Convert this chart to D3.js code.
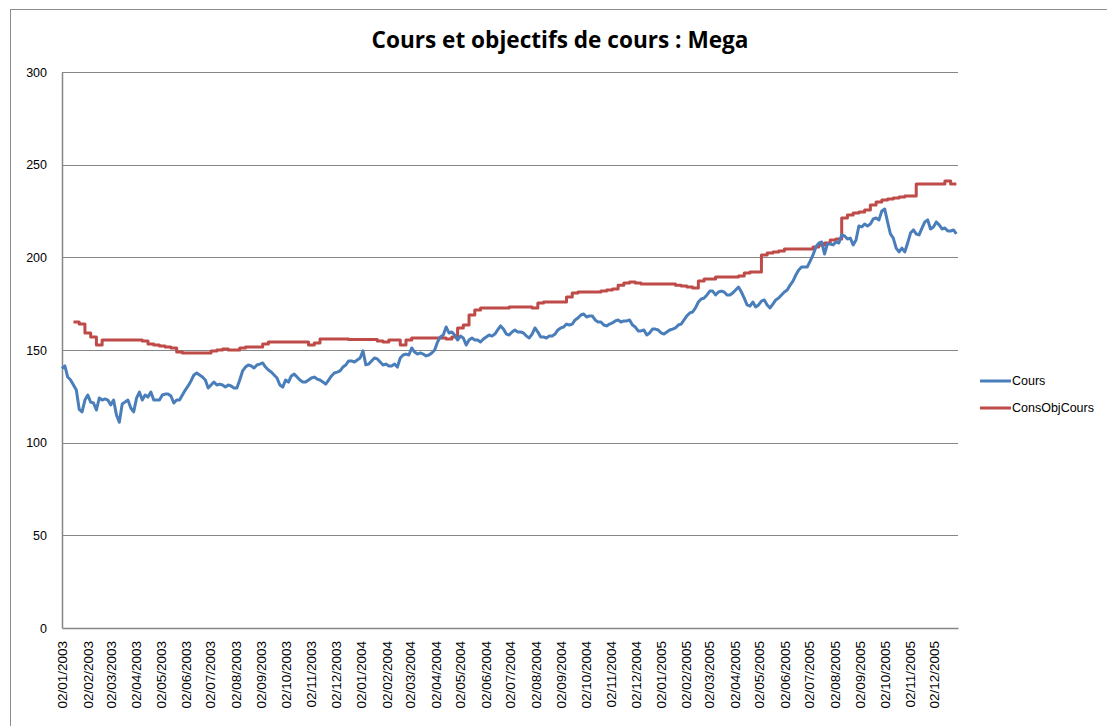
<!DOCTYPE html>
<html>
<head>
<meta charset="utf-8">
<script src="https://cdn.jsdelivr.net/npm/d3@7"></script>
<style>
  html, body { margin: 0; padding: 0; background: #fff; }
  svg { display: block; }
</style>
</head>
<body>
<svg id="chart" width="1107" height="726"></svg>
<script>
// ---------- DATA ----------
const title = "Cours et objectifs de cours : Mega";
const seriesNames = ["Cours", "ConsObjCours"];
const startDate = "2003-01-02";   // first observation
const coursStepHours = 84;         // Cours read twice a week (every 3.5 days)
const objStepDays = 7;             // ConsObjCours read weekly
const domainEnd = "2005-12-31";

const cours = [
  140, 141.4, 135.4, 133.8, 131.1, 128.4, 118, 116.6, 123, 125.7,
  121.9, 121.4, 117.6, 124.1, 123, 123.6, 123, 120.3, 123, 114.9,
  111, 120.9, 121.9, 123, 118.7, 116.6, 124, 127.3, 123, 125.7,
  124.6, 127.3, 123, 123, 123, 125.7, 126.2, 126.2, 125.2, 121.4,
  123, 123, 125.7, 128.4, 130.6, 133.3, 136.5, 137.6, 136.5, 135.4,
  133.8, 129.5, 131.1, 132.7, 131.1, 131.6, 131.1, 130, 131.1, 130.6,
  129.5, 129.5, 133.8, 138.7, 140.8, 141.9, 141.4, 140.3, 141.9, 142.4,
  143, 140.8, 139.2, 138.1, 136.5, 134.9, 131.1, 130, 133.8, 132.7,
  136, 137, 135.4, 133.8, 132.7, 132.7, 133.8, 134.9, 135.4, 134.3,
  133.8, 132.7, 131.6, 133.8, 136, 137.6, 138.1, 138.7, 140.8, 141.9,
  144.1, 144.1, 143.5, 144.6, 145.7, 149.5, 142, 142.4, 144.1, 145.7,
  145.2, 143.5, 141.9, 142.4, 141.4, 141.4, 142.4, 140.8, 145.7, 147.3,
  147.8, 147.3, 151.1, 148.9, 147.8, 148.4, 147.8, 146.8, 147.3, 148.4,
  150, 154.3, 157, 158.1, 162.4, 159.2, 159.7, 158.1, 155.4, 157.5,
  156.5, 152.7, 155.4, 156.5, 155.4, 155.4, 154.3, 155.9, 157, 158.1,
  157.5, 158.6, 160.8, 163, 161.3, 158.6, 158.1, 159.7, 160.8, 159.7,
  159.7, 159.2, 157.5, 156.5, 158.6, 161.9, 159.7, 157, 157, 156.5,
  157.5, 157.5, 158.6, 160.8, 161.9, 162.4, 164, 163.5, 164, 166.2,
  167.3, 168.9, 169.4, 167.8, 168.4, 168.4, 166.2, 165.1, 165.1, 163.5,
  163, 164, 164.6, 165.7, 166.2, 165.1, 165.7, 165.7, 166.2, 163.5,
  162.4, 160.3, 160.3, 160.8, 158.1, 159.2, 161.3, 161.3, 160.8, 159.2,
  158.6, 159.7, 160.8, 161.3, 161.9, 163.5, 164, 166.2, 168.4, 170,
  170.5, 172.7, 175.9, 177.5, 178, 179.7, 181.8, 181.8, 179.7, 181.3,
  181.8, 181.3, 179.7, 179.7, 180.8, 182.4, 184, 181.3, 178, 174.3,
  173.7, 175.9, 173.2, 174.3, 176.4, 177, 174.3, 172.7, 174.8, 177,
  178, 179.7, 181.3, 182.4, 185, 187.2, 190.5, 193.2, 194.8, 194.8,
  194.8, 198, 201.3, 205.6, 207.7, 208.3, 201.8, 207.2, 207.2, 206.7,
  208.3, 207.7, 212.1, 211.5, 209.9, 210.4, 206.7, 209.4, 216.9, 216.4,
  218, 216.9, 218, 220.7, 221.2, 220.2, 225, 226.1, 219.1, 212.6,
  210.4, 205, 202.9, 205, 202.9, 207.7, 213.1, 214.8, 212.6, 212.1,
  215.8, 219.1, 220.2, 215.3, 216.4, 219.1, 217.5, 215.3, 215.8, 214.2,
  214.2, 214.8, 212.6
];

const consObjCours = [
  null, null, 165.1, 164, 159.2, 157, 152.7, 155.4, 155.4, 155.4,
  155.4, 155.4, 155.4, 155.4, 154.9, 153.2, 152.7, 152.2, 151.6, 151.1,
  148.9, 148.4, 148.4, 148.4, 148.4, 148.4, 149.5, 150, 150.5, 150,
  150, 151.1, 151.6, 151.6, 151.6, 153.2, 154.3, 154.3, 154.3, 154.3,
  154.3, 154.3, 154.3, 152.7, 153.8, 155.9, 155.9, 155.9, 155.9, 155.9,
  155.6, 155.6, 155.6, 155.6, 155.6, 154.9, 154.3, 155.4, 155.4, 152.7,
  155.4, 156.5, 156.5, 156.5, 156.5, 156.5, 156.5, 156, 157, 161.9,
  163.5, 168.9, 171.6, 172.7, 172.7, 172.7, 172.7, 172.7, 173.2, 173.2,
  173.2, 173.2, 172.7, 175.4, 175.9, 175.9, 175.9, 175.9, 178.6, 180.8,
  181.3, 181.3, 181.3, 181.3, 181.8, 182.4, 182.9, 185, 186.2, 186.7,
  186.2, 185.6, 185.6, 185.6, 185.6, 185.6, 185.6, 185, 184.5, 184,
  183.5, 187.2, 188.3, 188.3, 189.4, 189.4, 189.4, 189.4, 189.9, 191.6,
  192.1, 192.1, 201.3, 202.3, 202.9, 203.4, 204.5, 204.5, 204.5, 204.5,
  204.5, 205.6, 206.7, 207.7, 209.4, 209.9, 221.2, 222.8, 223.9, 224.5,
  225.5, 228.2, 229.9, 230.9, 231.5, 232, 232.6, 233.1, 233.1, 239.6,
  239.6, 239.6, 239.6, 239.6, 241.2, 239.6, 239.6
];

const yTicks = [0, 50, 100, 150, 200, 250, 300];

const xTickLabels = [
  "02/01/2003","02/02/2003","02/03/2003","02/04/2003","02/05/2003","02/06/2003",
  "02/07/2003","02/08/2003","02/09/2003","02/10/2003","02/11/2003","02/12/2003",
  "02/01/2004","02/02/2004","02/03/2004","02/04/2004","02/05/2004","02/06/2004",
  "02/07/2004","02/08/2004","02/09/2004","02/10/2004","02/11/2004","02/12/2004",
  "02/01/2005","02/02/2005","02/03/2005","02/04/2005","02/05/2005","02/06/2005",
  "02/07/2005","02/08/2005","02/09/2005","02/10/2005","02/11/2005","02/12/2005"
];

const colors = ["#4A7EBB", "#BE4B48"];

// ---------- BUILD ----------
const parseISO = d3.timeParse("%Y-%m-%d");
const parseFR = d3.timeParse("%d/%m/%Y");
const t0 = parseISO(startDate);

const coursRows = cours.map((v, i) => ({ date: d3.timeHour.offset(t0, i * coursStepHours), v }));
const objRows = consObjCours.map((v, i) => ({ date: d3.timeDay.offset(t0, i * objStepDays), v }));

const svg = d3.select("#chart");
const plot = { left: 62, right: 958, top: 72, bottom: 628 };

// outer chart border
svg.append("rect")
  .attr("x", 10.5).attr("y", 9.5)
  .attr("width", 1200).attr("height", 1000)
  .attr("fill", "none").attr("stroke", "#8c8c8c").attr("stroke-width", 1);

const x = d3.scaleTime()
  .domain([t0, parseISO(domainEnd)])
  .range([plot.left, plot.right]);
const y = d3.scaleLinear()
  .domain([0, 300])
  .range([plot.bottom, plot.top]);

// gridlines
svg.append("g")
  .selectAll("line")
  .data(yTicks.filter(v => v > 0))
  .join("line")
  .attr("x1", plot.left).attr("x2", plot.right)
  .attr("y1", d => Math.round(y(d)) + 0.5).attr("y2", d => Math.round(y(d)) + 0.5)
  .attr("stroke", "#868686").attr("stroke-width", 1);

// y axis
const yAxis = d3.axisLeft(y).tickValues(yTicks).tickSize(0).tickPadding(15);
const gy = svg.append("g")
  .attr("transform", `translate(${plot.left},0)`)
  .call(yAxis);
gy.select(".domain").attr("stroke", "#868686").attr("stroke-width", 1.5);
gy.selectAll("text")
  .attr("font-family", "'Liberation Sans', Arial, sans-serif")
  .attr("font-size", 12.5).attr("fill", "#000");

// x axis
const xTickDates = xTickLabels.map(parseFR);
const xAxis = d3.axisBottom(x)
  .tickValues(xTickDates)
  .tickFormat((d, i) => xTickLabels[i])
  .tickSize(0);
const gx = svg.append("g")
  .attr("transform", `translate(0,${plot.bottom})`)
  .call(xAxis);
gx.select(".domain").attr("stroke", "#868686").attr("stroke-width", 1.5);
gx.selectAll("text")
  .attr("font-family", "'Liberation Sans', Arial, sans-serif")
  .attr("font-size", 13.5).attr("fill", "#000")
  .attr("text-anchor", "end")
  .attr("transform", "rotate(-90)")
  .attr("x", -13).attr("y", 0).attr("dy", "0.35em");

// lines
const lineCours = d3.line()
  .x(d => x(d.date)).y(d => y(d.v))
  .defined(d => d.v != null);
const lineObj = d3.line()
  .x(d => x(d.date)).y(d => y(d.v))
  .defined(d => d.v != null)
  .curve(d3.curveStepAfter);

svg.append("path").datum(objRows)
  .attr("d", lineObj).attr("fill", "none")
  .attr("stroke", colors[1]).attr("stroke-width", 3)
  .attr("stroke-linejoin", "round");
svg.append("path").datum(coursRows)
  .attr("d", lineCours).attr("fill", "none")
  .attr("stroke", colors[0]).attr("stroke-width", 3)
  .attr("stroke-linejoin", "round");

// title
svg.append("text")
  .attr("x", 560).attr("y", 48)
  .attr("text-anchor", "middle")
  .attr("font-family", "'Liberation Sans Narrow', 'Open Sans', Roboto, sans-serif")
  .attr("font-weight", "bold")
  .attr("font-size", 23)
  .attr("textLength", 377).attr("lengthAdjust", "spacingAndGlyphs")
  .text(title);

// legend
const lg = svg.append("g");
seriesNames.forEach((name, i) => {
  const ly = 381 + i * 27;
  lg.append("line")
    .attr("x1", 980).attr("x2", 1011)
    .attr("y1", ly).attr("y2", ly)
    .attr("stroke", colors[i]).attr("stroke-width", 3);
  lg.append("text")
    .attr("x", 1012).attr("y", ly).attr("dy", "0.35em")
    .attr("font-family", "'Liberation Sans', Arial, sans-serif")
    .attr("font-size", 12.5)
    .text(name);
});
</script>
</body>
</html>
